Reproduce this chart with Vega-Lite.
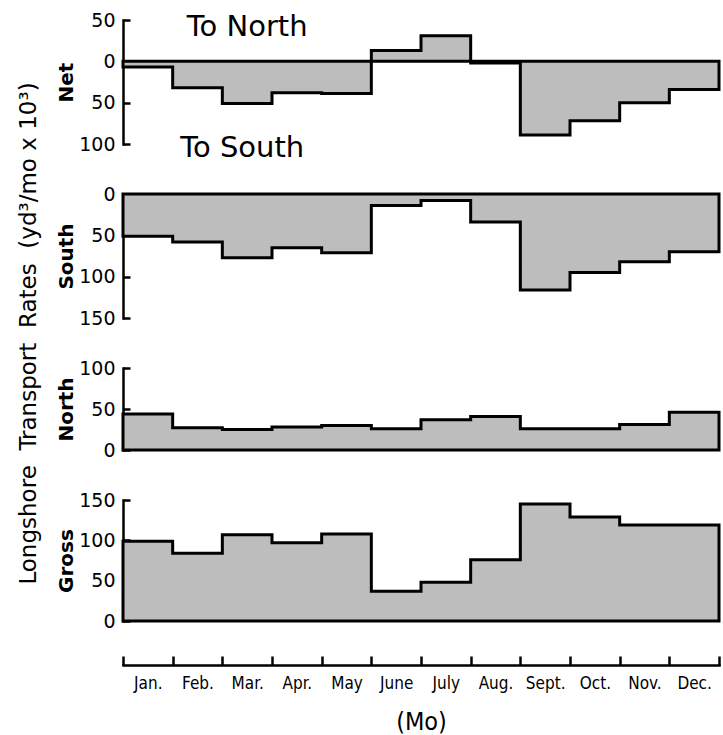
{
  "$schema": "https://vega.github.io/schema/vega-lite/v6.json",
  "background": "white",
  "padding": {"left": 17, "top": 11, "right": 2, "bottom": 2},
  "title": {"text": "Longshore\u00a0 Transport\u00a0 Rates\u00a0 (yd³/mo x 10³)", "orient": "left", "anchor": "middle", "fontSize": 23, "font": "DejaVu Sans", "fontWeight": "normal", "color": "black", "offset": 16, "dx": 39},
  "bounds": "flush",
  "spacing": 50,
  "datasets": {
    "net": [
      {"i": 0, "month": "Jan.", "value": -7}, {"i": 1, "month": "Feb.", "value": -32}, {"i": 2, "month": "Mar.", "value": -51},
      {"i": 3, "month": "Apr.", "value": -38}, {"i": 4, "month": "May", "value": -39}, {"i": 5, "month": "June", "value": 13},
      {"i": 6, "month": "July", "value": 31}, {"i": 7, "month": "Aug.", "value": -2}, {"i": 8, "month": "Sept.", "value": -89},
      {"i": 9, "month": "Oct.", "value": -72}, {"i": 10, "month": "Nov.", "value": -50}, {"i": 11, "month": "Dec.", "value": -34},
      {"i": 12, "month": "end", "value": -34}
    ],
    "south": [
      {"i": 0, "month": "Jan.", "value": 51}, {"i": 1, "month": "Feb.", "value": 58}, {"i": 2, "month": "Mar.", "value": 77},
      {"i": 3, "month": "Apr.", "value": 65}, {"i": 4, "month": "May", "value": 71}, {"i": 5, "month": "June", "value": 14},
      {"i": 6, "month": "July", "value": 8}, {"i": 7, "month": "Aug.", "value": 34}, {"i": 8, "month": "Sept.", "value": 116},
      {"i": 9, "month": "Oct.", "value": 95}, {"i": 10, "month": "Nov.", "value": 82}, {"i": 11, "month": "Dec.", "value": 70},
      {"i": 12, "month": "end", "value": 70}
    ],
    "north": [
      {"i": 0, "month": "Jan.", "value": 44}, {"i": 1, "month": "Feb.", "value": 27}, {"i": 2, "month": "Mar.", "value": 25},
      {"i": 3, "month": "Apr.", "value": 28}, {"i": 4, "month": "May", "value": 30}, {"i": 5, "month": "June", "value": 26},
      {"i": 6, "month": "July", "value": 37}, {"i": 7, "month": "Aug.", "value": 41}, {"i": 8, "month": "Sept.", "value": 26},
      {"i": 9, "month": "Oct.", "value": 26}, {"i": 10, "month": "Nov.", "value": 31}, {"i": 11, "month": "Dec.", "value": 46},
      {"i": 12, "month": "end", "value": 46}
    ],
    "gross": [
      {"i": 0, "month": "Jan.", "value": 99}, {"i": 1, "month": "Feb.", "value": 84}, {"i": 2, "month": "Mar.", "value": 107},
      {"i": 3, "month": "Apr.", "value": 97}, {"i": 4, "month": "May", "value": 108}, {"i": 5, "month": "June", "value": 37},
      {"i": 6, "month": "July", "value": 48}, {"i": 7, "month": "Aug.", "value": 76}, {"i": 8, "month": "Sept.", "value": 145},
      {"i": 9, "month": "Oct.", "value": 129}, {"i": 10, "month": "Nov.", "value": 119}, {"i": 11, "month": "Dec.", "value": 119},
      {"i": 12, "month": "end", "value": 119}
    ],
    "months": [
      {"month": "Jan."}, {"month": "Feb."}, {"month": "Mar."}, {"month": "Apr."}, {"month": "May"}, {"month": "June"},
      {"month": "July"}, {"month": "Aug."}, {"month": "Sept."}, {"month": "Oct."}, {"month": "Nov."}, {"month": "Dec."}
    ],
    "netLabels": [
      {"label": "To North", "x": 2.5, "y": 42},
      {"label": "To South", "x": 2.4, "y": -105}
    ]
  },
  "vconcat": [
    {
      "width": 596, "height": 124,
      "layer": [
        {
          "data": {"name": "net"},
          "mark": {"type": "area", "interpolate": "step-after", "fill": "#bdbdbd", "stroke": "black", "strokeWidth": 3, "strokeJoin": "miter"},
          "encoding": {
            "x": {"field": "i", "type": "quantitative", "scale": {"domain": [0, 12], "nice": false}, "axis": null},
            "y": {"field": "value", "type": "quantitative", "stack": null, "scale": {"domain": [-100, 50], "nice": false},
                  "axis": {"title": "Net", "values": [50, 0, -50, -100], "labelExpr": "'' + abs(datum.value)"}}
          }
        },
        {
          "data": {"name": "netLabels"},
          "mark": {"type": "text", "fontSize": 29, "font": "DejaVu Sans", "baseline": "middle", "align": "center", "clip": false, "color": "black"},
          "encoding": {
            "x": {"field": "x", "type": "quantitative"},
            "y": {"field": "y", "type": "quantitative"},
            "text": {"field": "label"}
          }
        }
      ]
    },
    {
      "width": 596, "height": 124,
      "data": {"name": "south"},
      "mark": {"type": "area", "interpolate": "step-after", "fill": "#bdbdbd", "stroke": "black", "strokeWidth": 3, "strokeJoin": "miter"},
      "encoding": {
        "x": {"field": "i", "type": "quantitative", "scale": {"domain": [0, 12], "nice": false}, "axis": null},
        "y": {"field": "value", "type": "quantitative", "stack": null, "scale": {"domain": [0, 150], "nice": false, "reverse": true},
              "axis": {"title": "South", "values": [0, 50, 100, 150]}}
      }
    },
    {
      "width": 596, "height": 82,
      "data": {"name": "north"},
      "mark": {"type": "area", "interpolate": "step-after", "fill": "#bdbdbd", "stroke": "black", "strokeWidth": 3, "strokeJoin": "miter"},
      "encoding": {
        "x": {"field": "i", "type": "quantitative", "scale": {"domain": [0, 12], "nice": false}, "axis": null},
        "y": {"field": "value", "type": "quantitative", "stack": null, "scale": {"domain": [0, 100], "nice": false},
              "axis": {"title": "North", "values": [0, 50, 100]}}
      }
    },
    {
      "width": 596, "height": 121,
      "layer": [
        {
          "data": {"name": "gross"},
          "mark": {"type": "area", "interpolate": "step-after", "fill": "#bdbdbd", "stroke": "black", "strokeWidth": 3, "strokeJoin": "miter"},
          "encoding": {
            "x": {"field": "i", "type": "quantitative", "scale": {"domain": [0, 12], "nice": false}, "axis": null},
            "y": {"field": "value", "type": "quantitative", "stack": null, "scale": {"domain": [0, 150], "nice": false},
                  "axis": {"title": "Gross", "values": [0, 50, 100, 150]}}
          }
        },
        {
          "data": {"name": "months"},
          "mark": {"type": "point", "opacity": 0},
          "encoding": {
            "x": {"field": "month", "type": "ordinal", "sort": null, "scale": {"type": "band", "paddingInner": 0, "paddingOuter": 0},
                  "axis": {"title": "(Mo)", "orient": "bottom", "offset": 44, "tickBand": "extent", "tickSize": -9, "labelFont": "DejaVu Sans Condensed", "labelFontSize": 17, "labelAngle": 0, "labelPadding": 19, "titleFontSize": 25, "titleFontWeight": "normal", "titlePadding": 18, "titleFont": "DejaVu Sans Condensed"}}
          }
        }
      ],
      "resolve": {"scale": {"x": "independent"}}
    }
  ],
  "config": {
    "view": {"stroke": null},
    "font": "DejaVu Sans",
    "axis": {
      "domainColor": "black", "domainWidth": 2.5, "domainCap": "square",
      "tickColor": "black", "tickWidth": 2.5, "tickSize": -7,
      "labelColor": "black", "labelFontSize": 19, "labelFont": "DejaVu Sans", "labelPadding": 15,
      "titleColor": "black", "titleFont": "DejaVu Sans", "titleFontSize": 20, "titleFontWeight": "bold", "titlePadding": 2,
      "grid": false
    }
  }
}
